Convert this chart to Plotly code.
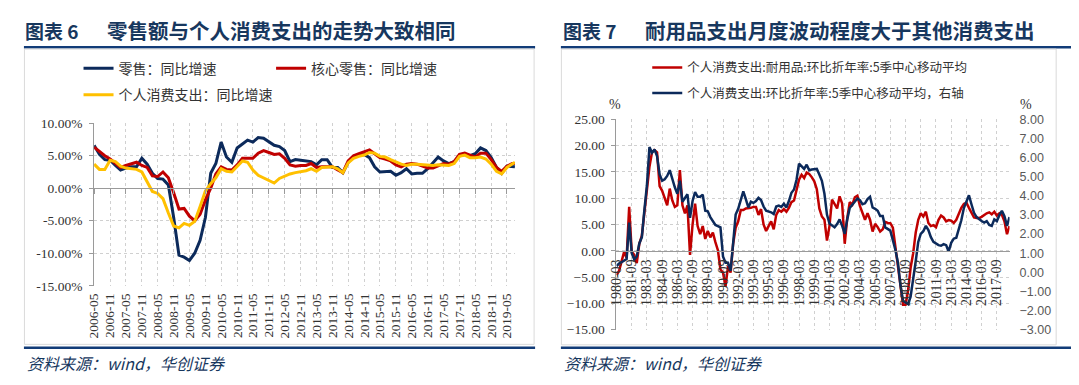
import plotly.graph_objects as go
import pandas as pd

# page is shown with an 8px body margin, so the figure is sized/offset to land on the 1079x385 frame
OFF = 8
W, H = 1071, 377

# ---------------- Left chart data (monthly, sampled every 2 months) ----------------
retail_dates = list(pd.date_range("2006-05-01", periods=80, freq="2MS")) + [pd.Timestamp("2019-08-01")]

retail_yoy = [6.6, 5.2, 4.4, 4.3, 3.5, 2.8, 3.1, 3.3, 3.3, 4.6,
              3.7, 2.3, 1.5, 1.4, 0.5, -4.5, -10.3, -10.6, -11.1, -10.0,
              -8.0, -4.5, 2.3, 3.8, 7.1, 4.8, 4.0, 6.2, 6.8, 7.4,
              7.1, 7.8, 7.7, 7.2, 6.6, 6.4, 5.8, 4.1, 4.4, 4.3,
              4.2, 4.1, 3.6, 4.4, 4.4, 3.2, 3.2, 2.4, 4.0, 4.9,
              5.1, 5.2, 4.7, 3.3, 2.5, 2.6, 2.6, 2.0, 2.4, 3.0,
              2.2, 2.3, 2.3, 3.0, 3.9, 4.8, 4.2, 3.8, 4.1, 5.0,
              5.2, 5.0, 5.3, 6.2, 5.8, 4.7, 3.2, 2.3, 3.4, 3.4,
              3.3]

core_retail_yoy = [6.3, 5.6, 5.0, 4.5, 3.9, 3.2, 3.5, 3.8, 4.0, 3.5,
                   3.2, 1.9, 1.8, 2.5, 1.6, -0.7, -3.2, -3.1, -4.3, -5.0,
                   -4.0, -1.8, 0.0, 2.2, 3.3, 2.9, 2.8, 3.6, 4.6, 4.6,
                   4.6, 5.4, 5.8, 5.5, 5.2, 5.3, 4.6, 3.6, 3.4, 3.5,
                   3.5, 3.8, 3.2, 3.3, 3.3, 3.3, 2.8, 2.4, 4.2, 5.0,
                   5.3, 5.6, 5.9, 5.3, 4.7, 4.5, 4.2, 3.6, 3.3, 3.7,
                   3.8, 3.7, 3.4, 3.1, 3.1, 3.5, 3.8, 3.7, 4.1, 5.2,
                   5.4, 5.1, 4.8, 5.4, 5.4, 4.4, 3.2, 2.6, 3.4, 3.8,
                   3.8]

pce_yoy = [3.7, 2.9, 2.9, 4.3, 4.1, 3.4, 3.1, 3.0, 2.9, 2.5,
           0.9, -0.5, -0.8, -1.6, -3.8, -5.8, -6.1, -5.4, -5.7, -5.1,
           -2.8, -0.4, 0.7, 1.6, 3.0, 2.6, 2.5, 3.4, 4.2, 4.0,
           2.8, 2.0, 1.6, 1.3, 0.8, 1.5, 1.9, 2.2, 2.4, 2.5,
           2.7, 3.0, 2.6, 3.2, 3.3, 3.3, 3.0, 2.4, 3.9, 4.6,
           4.9, 5.1, 5.5, 5.4, 4.9, 4.8, 4.4, 4.0, 3.7, 3.5,
           3.7, 3.7, 3.6, 3.5, 3.5, 3.6, 3.5, 3.5, 3.8, 4.9,
           5.1, 4.7, 4.7, 4.8, 4.5, 3.7, 2.6, 2.2, 3.2, 3.7,
           4.0]

left_tick_dates = pd.date_range("2006-05-01", "2019-05-01", freq="6MS")
left_tick_text = [d.strftime("%Y-%m") for d in left_tick_dates]
left_y_ticks = [-15, -10, -5, 0, 5, 10]
left_y_text = ["-15.00%", "-10.00%", "-5.00%", "0.00%", "5.00%", "10.00%"]

# ---------------- Right chart data (quarterly) ----------------
q_dates = pd.date_range("1980-03-01", periods=156, freq="3MS")

durables_saar = [-4.63, -3.84, -2.01, -0.18, -1.40, 8.35, -0.18, -0.79, -2.32, 1.34,
                 2.87, 7.44, 12.01, 15.98, 18.72, 19.15, 18.72, 12.32, 11.40, 9.88,
                 8.66, 11.83, 9.57, 8.35, 8.66, 15.37, 8.66, 7.13, 8.66, -0.79,
                 5.00, 8.96, 4.70, 3.17, 4.70, 2.26, 3.78, 2.56, 3.48, 1.65,
                 0.12, -3.54, -4.15, -6.80, -2.93, -4.15, 1.34, 4.39, 5.61, 7.74,
                 7.74, 8.05, 8.05, 8.17, 8.35, 8.35, 6.83, 7.93, 5.00, 3.78,
                 4.70, 5.61, 4.09, 6.83, 7.74, 7.44, 7.93, 7.44, 8.17, 9.27,
                 9.57, 11.40, 13.54, 14.45, 13.84, 14.88, 14.63, 14.02, 13.23, 11.71,
                 8.05, 6.52, 5.91, 1.95, 4.70, 9.76, 8.78, 8.05, 10.37, 8.96,
                 1.34, 6.22, 9.27, 8.78, 10.18, 10.49, 8.54, 7.13, 5.91, 7.13,
                 5.91, 3.66, 5.12, 4.51, 3.66, 4.09, 5.49, 5.30, 5.24, 4.39,
                 0.73, -2.32, -6.59, -10.24, -10.24, -7.50, -3.23, -0.49, 3.48, 5.91,
                 7.13, 6.52, 7.44, 5.30, 4.70, 4.88, 4.51, 5.91, 6.71, 6.34,
                 5.61, 5.85, 5.73, 5.30, 5.91, 7.13, 8.17, 8.90, 9.15, 8.17,
                 7.13, 6.34, 6.22, 6.22, 6.46, 6.83, 7.13, 7.32, 6.95, 7.44,
                 6.71, 7.13, 6.83, 5.61, 3.17, 4.70]

pce_saar = [0.33, 0.46, 0.53, 0.63, 0.70, 2.60, 1.00, 0.67, 0.83, 1.51,
            1.84, 3.27, 4.53, 6.55, 6.25, 6.42, 6.08, 5.12, 4.79, 4.87,
            5.04, 5.34, 4.87, 4.45, 4.11, 4.79, 3.69, 3.90, 4.08, 2.85,
            3.73, 4.20, 3.95, 3.95, 4.06, 3.22, 3.19, 2.89, 2.68, 2.48,
            2.42, 2.35, 0.83, 0.50, 0.50, 0.08, 1.51, 3.02, 3.32, 3.73,
            4.23, 3.83, 3.39, 3.69, 3.63, 3.73, 3.90, 3.78, 3.44, 3.22,
            3.19, 3.14, 3.05, 3.44, 3.49, 3.42, 3.59, 3.39, 3.73, 4.16,
            4.33, 4.84, 5.68, 5.54, 5.41, 5.63, 5.34, 5.38, 5.41, 5.41,
            5.12, 4.79, 4.11, 3.02, 2.55, 2.43, 2.35, 2.52, 2.77, 2.43,
            2.01, 2.77, 3.36, 3.53, 3.73, 3.86, 3.78, 3.56, 3.61, 3.83,
            3.95, 3.39, 3.32, 3.22, 2.94, 2.94, 2.35, 2.26, 2.18, 1.68,
            1.17, 0.50, -0.68, -1.49, -1.60, -1.66, -1.27, -0.43, 0.58, 1.59,
            2.01, 2.15, 2.43, 2.21, 1.84, 1.59, 1.51, 1.42, 1.39, 1.47,
            1.42, 1.09, 1.54, 1.76, 1.81, 2.26, 2.72, 3.36, 3.73, 4.03,
            3.56, 3.11, 2.89, 2.77, 2.68, 2.60, 2.68, 2.48, 2.43, 2.77,
            2.68, 2.99, 3.22, 2.94, 2.43, 2.89]

right_tick_dates = pd.date_range("1980-03-01", "2017-09-01", freq="18MS")
right_tick_text = [d.strftime("%Y-%m") for d in right_tick_dates]

# ---------------- styling ----------------
NAVY = "#0C2A5B"
RED = "#C00000"
YELLOW = "#FFC000"
TITLE_BLUE = "#17375E"
RULE_BLUE = "#123C78"
GRID = "#D0D0D0"
AXIS = "#9A9A9A"
TXT = "#333333"
SERIF = "Liberation Serif, Times New Roman, serif"
CJK = "Noto Sans CJK SC"


def fx(p):
    return (p - OFF) / W


def fy(p):
    return 1 - (p - OFF) / H


# plot areas in screen pixels
L_X0, L_X1, L_TOP, L_BOT = 86.7, 510.7, 120.7, 290.0
R_X0, R_X1, R_TOP, R_BOT = 613.0, 1009.0, 116.7, 335.7

l_dom_y = [fy(L_BOT), fy(L_TOP)]
r_dom_y = [fy(R_BOT), fy(R_TOP)]
left_zero_pos = l_dom_y[0] + (0 - (-15)) / 25 * (l_dom_y[1] - l_dom_y[0])
right_zero_pos = r_dom_y[0] + (0 - (-15)) / 40 * (r_dom_y[1] - r_dom_y[0])

fig = go.Figure()

fig.add_trace(go.Scatter(x=retail_dates, y=retail_yoy, name="零售：同比增速", mode="lines",
                         line=dict(color=NAVY, width=3), xaxis="x", yaxis="y", legend="legend"))
fig.add_trace(go.Scatter(x=retail_dates, y=core_retail_yoy, name="核心零售：同比增速", mode="lines",
                         line=dict(color=RED, width=3), xaxis="x", yaxis="y", legend="legend2"))
fig.add_trace(go.Scatter(x=retail_dates, y=pce_yoy, name="个人消费支出：同比增速", mode="lines",
                         line=dict(color=YELLOW, width=3), xaxis="x", yaxis="y", legend="legend3"))
fig.add_trace(go.Scatter(x=[], y=[], mode="lines", showlegend=False, hoverinfo="skip",
                         xaxis="x3", yaxis="y"))

fig.add_trace(go.Scatter(x=q_dates, y=durables_saar, name="个人消费支出:耐用品:环比折年率:5季中心移动平均",
                         mode="lines", line=dict(color=RED, width=2.5), xaxis="x2", yaxis="y2",
                         legend="legend4"))
fig.add_trace(go.Scatter(x=q_dates, y=pce_saar, name="个人消费支出:环比折年率:5季中心移动平均，右轴",
                         mode="lines", line=dict(color=NAVY, width=2.5), xaxis="x2", yaxis="y3",
                         legend="legend5"))

tick_font = dict(family=SERIF, size=13.5, color=TXT)
grid_kw = dict(showgrid=True, gridcolor=GRID, griddash="dot", gridwidth=1)

fig.update_layout(
    width=W, height=H, autosize=False,
    margin=dict(l=0, r=0, t=0, b=0),
    paper_bgcolor="white", plot_bgcolor="rgba(0,0,0,0)",
    xaxis=dict(domain=[fx(L_X0), fx(L_X1)], anchor="y", type="date",
               range=["2006-05-01", "2019-08-01"], tickvals=list(left_tick_dates), ticktext=left_tick_text,
               tickangle=-90, tickfont=tick_font, ticks="", showline=False, zeroline=False,
               ticklabelstandoff=4, **grid_kw),
    xaxis3=dict(overlaying="x", anchor="free", position=left_zero_pos, type="date",
                range=["2006-05-01", "2019-08-01"], tickvals=list(left_tick_dates),
                showticklabels=False, ticks="outside", ticklen=5, tickcolor=AXIS, tickwidth=1,
                showline=True, linecolor=AXIS, linewidth=1, showgrid=False, zeroline=False),
    yaxis=dict(domain=l_dom_y, anchor="x", range=[-15, 10], tickvals=left_y_ticks, ticktext=left_y_text,
               tickfont=tick_font, showline=True, linecolor=AXIS, ticks="outside", ticklen=4,
               tickcolor=AXIS, zeroline=False, ticklabelstandoff=4, **grid_kw),
    xaxis2=dict(domain=[fx(R_X0), fx(R_X1)], anchor="free", position=right_zero_pos, type="date",
                range=["1980-03-01", "2018-12-01"], tickvals=list(right_tick_dates), ticktext=right_tick_text,
                tickangle=-90, tickfont=dict(family=SERIF, size=14, color=TXT), ticks="",
                showline=True, linecolor=AXIS, linewidth=1, zeroline=False, ticklabelstandoff=2,
                **grid_kw),
    yaxis2=dict(domain=r_dom_y, anchor="x2", range=[-15, 25], tickvals=list(range(-15, 30, 5)),
                tickformat=".2f", tickfont=tick_font, showline=True, linecolor=AXIS, ticks="outside",
                ticklen=4, tickcolor=AXIS, zeroline=False, ticklabelstandoff=4, **grid_kw),
    yaxis3=dict(overlaying="y2", anchor="x2", side="right", range=[-3, 8], tickvals=list(range(-3, 9)),
                tickformat=".2f", tickfont=dict(family="Liberation Sans", size=12.5, color="#595959"),
                showgrid=False, showline=False, ticks="", zeroline=False, ticklabelstandoff=9),
    showlegend=True,
)

leg_font = dict(family=CJK, size=14, color=TXT)
leg_font_r = dict(family=CJK, size=12.5, color=TXT)


def leg(x, y, font):
    return dict(x=fx(x), y=fy(y), xanchor="left", yanchor="middle", orientation="h",
                bgcolor="rgba(0,0,0,0)", borderwidth=0, font=font, itemwidth=30)


fig.update_layout(
    legend=leg(71, 64, leg_font),
    legend2=leg(265, 64, leg_font),
    legend3=leg(71, 91.5, leg_font),
    legend4=leg(644, 63, leg_font_r),
    legend5=leg(644, 89.5, leg_font_r),
)

annotations = [
    dict(text="<b>图表 6</b>", x=fx(15), y=fy(24), font=dict(family=CJK, size=19, color=TITLE_BLUE)),
    dict(text="<b>零售额与个人消费支出的走势大致相同</b>", x=fx(98), y=fy(24),
         font=dict(family=CJK, size=20.5, color=TITLE_BLUE)),
    dict(text="<b>图表 7</b>", x=fx(557), y=fy(24), font=dict(family=CJK, size=19, color=TITLE_BLUE)),
    dict(text="<b>耐用品支出月度波动程度大于其他消费支出</b>", x=fx(640), y=fy(24),
         font=dict(family=CJK, size=20.5, color=TITLE_BLUE)),
    dict(text="<i>资料来源：wind，华创证券</i>", x=fx(17), y=fy(370),
         font=dict(family=CJK, size=16, color=TITLE_BLUE)),
    dict(text="<i>资料来源：wind，华创证券</i>", x=fx(558), y=fy(370),
         font=dict(family=CJK, size=16, color=TITLE_BLUE)),
    dict(text="%", x=fx(603), y=fy(101), font=dict(family=SERIF, size=14, color=TXT)),
    dict(text="%", x=fx(1018), y=fy(101), font=dict(family=SERIF, size=14, color=TXT)),
]
for a in annotations:
    a.update(xref="paper", yref="paper", xanchor="left", yanchor="middle", showarrow=False)
fig.update_layout(annotations=annotations)

shapes = [
    dict(type="line", x0=fx(16), x1=fx(531), y0=fy(41.5), y1=fy(41.5), line=dict(color=RULE_BLUE, width=2.5)),
    dict(type="line", x0=fx(557), x1=fx(1079), y0=fy(41.5), y1=fy(41.5), line=dict(color=RULE_BLUE, width=2.5)),
    dict(type="rect", x0=fx(16.5), x1=fx(530), y0=fy(43.5), y1=fy(351), line=dict(color="#DADADA", width=1)),
    dict(type="rect", x0=fx(557.5), x1=fx(1056), y0=fy(43.5), y1=fy(351.5), line=dict(color="#DADADA", width=1)),
    dict(type="line", x0=fx(16), x1=fx(531), y0=fy(354.5), y1=fy(354.5), line=dict(color=RULE_BLUE, width=2.5)),
    dict(type="line", x0=fx(557), x1=fx(1079), y0=fy(354.5), y1=fy(354.5), line=dict(color=RULE_BLUE, width=2.5)),
]
for s in shapes:
    s.update(xref="paper", yref="paper", layer="below")
fig.update_layout(shapes=shapes)

fig.write_html("out.html")
